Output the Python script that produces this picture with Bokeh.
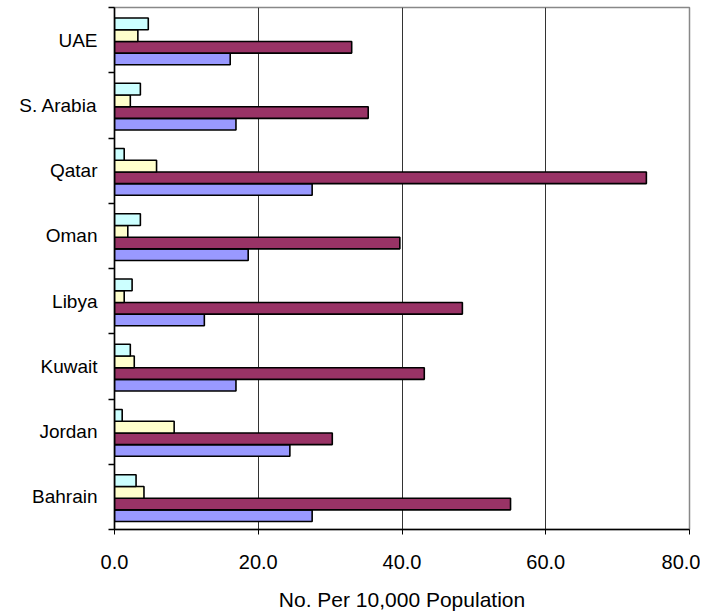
import numpy as np
from bokeh.plotting import figure
from bokeh.models import Range1d, FixedTicker, ColumnDataSource
from bokeh.embed import file_html
from bokeh.resources import INLINE

countries = ["Bahrain", "Jordan", "Kuwait", "Libya", "Oman", "Qatar", "S. Arabia", "UAE"]
series_blue = [27.5, 24.4, 16.9, 12.5, 18.6, 27.5, 16.9, 16.1]
series_maroon = [55.1, 30.3, 43.1, 48.4, 39.7, 74.0, 35.3, 33.0]
series_yellow = [4.1, 8.3, 2.75, 1.35, 1.85, 5.85, 2.2, 3.25]
series_cyan = [3.0, 1.07, 2.2, 2.45, 3.6, 1.35, 3.6, 4.7]
x_ticks = [0, 20, 40, 60, 80]

series = [
    (series_blue, "#9999FF"),
    (series_maroon, "#993366"),
    (series_yellow, "#FFFFCC"),
    (series_cyan, "#CCFFFF"),
]

n = len(countries)
centers = np.arange(n) + 0.5
bar_h = 0.179
group_shift = -0.02

p = figure(output_backend="svg", toolbar_location=None,
           frame_width=575, frame_height=522,
           min_border_left=114, min_border_right=11,
           min_border_top=7, min_border_bottom=85,
           x_range=Range1d(0, 80), y_range=Range1d(0, n))
p.outline_line_color = "#888888"
p.outline_line_width = 1.5
p.background_fill_color = "white"
p.border_fill_color = "white"

for k, (vals, col) in enumerate(series):
    ys = centers + group_shift + (k - 1.5) * bar_h
    src = ColumnDataSource(dict(y=ys, right=vals))
    p.hbar(y="y", left=0, right="right", height=bar_h, source=src,
           fill_color=col, line_color="black", line_width=1.6)

# x axis
p.xaxis.ticker = FixedTicker(ticks=x_ticks)
p.xaxis.major_label_overrides = {t: f"{t:.1f}" for t in x_ticks}
p.xaxis.axis_label = "No. Per 10,000 Population"
p.xaxis.axis_line_color = "black"
p.xaxis.axis_line_width = 1.5
p.xaxis.major_tick_in = 0
p.xaxis.major_tick_out = 5
p.xaxis.major_tick_line_color = "black"
p.xaxis.minor_tick_line_color = None
p.xaxis.major_label_standoff = 20
p.xaxis.axis_label_standoff = 16
p.xaxis.major_label_text_font = "Liberation Sans"
p.xaxis.major_label_text_font_size = "20px"
p.xaxis.major_label_text_color = "black"
p.xaxis.axis_label_text_font = "Liberation Sans"
p.xaxis.axis_label_text_font_size = "21px"
p.xaxis.axis_label_text_font_style = "normal"
p.xaxis.axis_label_text_color = "black"

# y axis: labels at centers, ticks at boundaries (minor ticks)
p.yaxis.ticker = FixedTicker(ticks=list(centers), minor_ticks=list(range(n + 1)))
p.yaxis.major_label_overrides = {float(c): name for c, name in zip(centers, countries)}
p.yaxis.major_tick_line_color = None
p.yaxis.minor_tick_in = 0
p.yaxis.minor_tick_out = 6
p.yaxis.minor_tick_line_color = "black"
p.yaxis.minor_tick_line_width = 1.5
p.yaxis.axis_line_color = "black"
p.yaxis.axis_line_width = 1.5
p.yaxis.major_label_standoff = 11
p.yaxis.major_label_text_font = "Liberation Sans"
p.yaxis.major_label_text_font_size = "19px"
p.yaxis.major_label_text_color = "black"

p.xgrid.ticker = FixedTicker(ticks=[20, 40, 60])
p.xgrid.grid_line_color = "#333333"
p.xgrid.grid_line_width = 1
p.ygrid.grid_line_color = None

open("out.html", "w").write(file_html(p, INLINE))
